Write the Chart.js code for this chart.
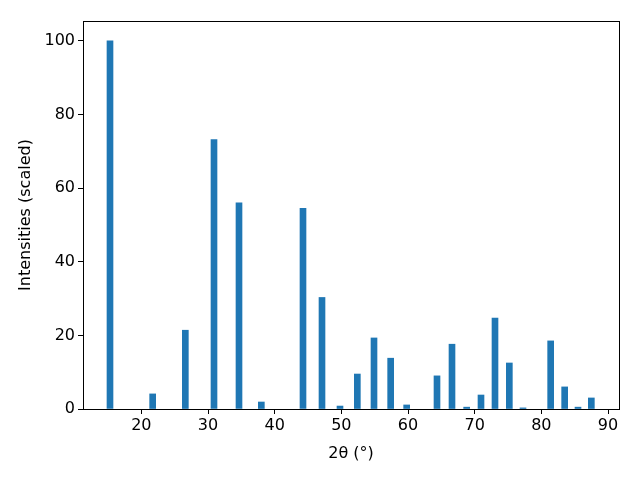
<!DOCTYPE html>
<html>
<head>
<meta charset="utf-8">
<script src="https://cdn.jsdelivr.net/npm/chart.js@4/dist/chart.umd.min.js"></script>
<style>
  html, body { margin: 0; padding: 0; background: #fff; }
  #wrap { width: 640px; height: 480px; }
</style>
</head>
<body>
<div id="wrap"><canvas id="chart" width="640" height="480"></canvas></div>
<script>
// 2theta peak positions (degrees) and scaled intensities
const twoTheta = [15.3, 21.7, 26.6, 30.9, 34.65, 38.0, 44.25, 47.1, 49.8, 52.4, 54.9, 57.4, 59.8,
                  64.35, 66.6, 68.8, 70.95, 73.05, 75.2, 77.25, 81.4, 83.5, 85.5, 87.5];
const intensities = [100, 4.1, 21.4, 73.2, 56.0, 1.9, 54.5, 30.3, 0.8, 9.5, 19.3, 13.8, 1.1,
                     9.0, 17.6, 0.5, 3.8, 24.7, 12.5, 0.3, 18.5, 6.0, 0.5, 3.0];
const xTicks = [20, 30, 40, 50, 60, 70, 80, 90];
const yTicks = [0, 20, 40, 60, 80, 100];

Chart.defaults.font.family = 'DejaVu Sans';
Chart.defaults.font.size = 16;
Chart.defaults.color = '#000';

// Draw the matplotlib style box round the plot area
const frame = {
    id: 'frame',
    afterDraw(chart) {
        const { ctx, chartArea: a } = chart;
        ctx.save();
        ctx.strokeStyle = '#000';
        ctx.lineWidth = 1;
        ctx.strokeRect(Math.round(a.left) + 0.5, Math.round(a.top) + 0.5,
                       Math.round(a.right - a.left), Math.round(a.bottom - a.top));
        ctx.restore();
    }
};

new Chart(document.getElementById('chart'), {
    type: 'bar',
    data: {
        datasets: [{
            data: twoTheta.map((x, i) => ({ x: x, y: intensities[i] })),
            backgroundColor: '#1f77b4',
            borderWidth: 0,
            barThickness: 6
        }]
    },
    options: {
        responsive: false,
        animation: false,
        layout: { padding: { top: 21, right: 21, left: 16, bottom: 17 } },
        plugins: { legend: { display: false }, tooltip: { enabled: false } },
        scales: {
            x: {
                type: 'linear',
                offset: false,
                min: 11.25,
                max: 91.65,
                afterBuildTicks: s => { s.ticks = xTicks.map(v => ({ value: v })); },
                afterFit: s => { s.height = 54; },
                grid: { offset: false, drawOnChartArea: false, drawTicks: true, tickLength: 5, color: '#000' },
                border: { display: true, color: '#000' },
                ticks: { padding: 2, maxRotation: 0 },
                title: { display: true, text: '2θ (°)', padding: { top: 2, bottom: 0 } }
            },
            y: {
                min: 0,
                max: 105.4,
                afterBuildTicks: s => { s.ticks = yTicks.map(v => ({ value: v })); },
                afterFit: s => { s.width = 67; },
                grid: { drawOnChartArea: false, drawTicks: true, tickLength: 5, color: '#000' },
                border: { display: true, color: '#000' },
                ticks: { padding: 3 },
                title: { display: true, text: 'Intensities (scaled)', padding: { top: 0, bottom: 4 } }
            }
        }
    },
    plugins: [frame]
});
</script>
</body>
</html>
